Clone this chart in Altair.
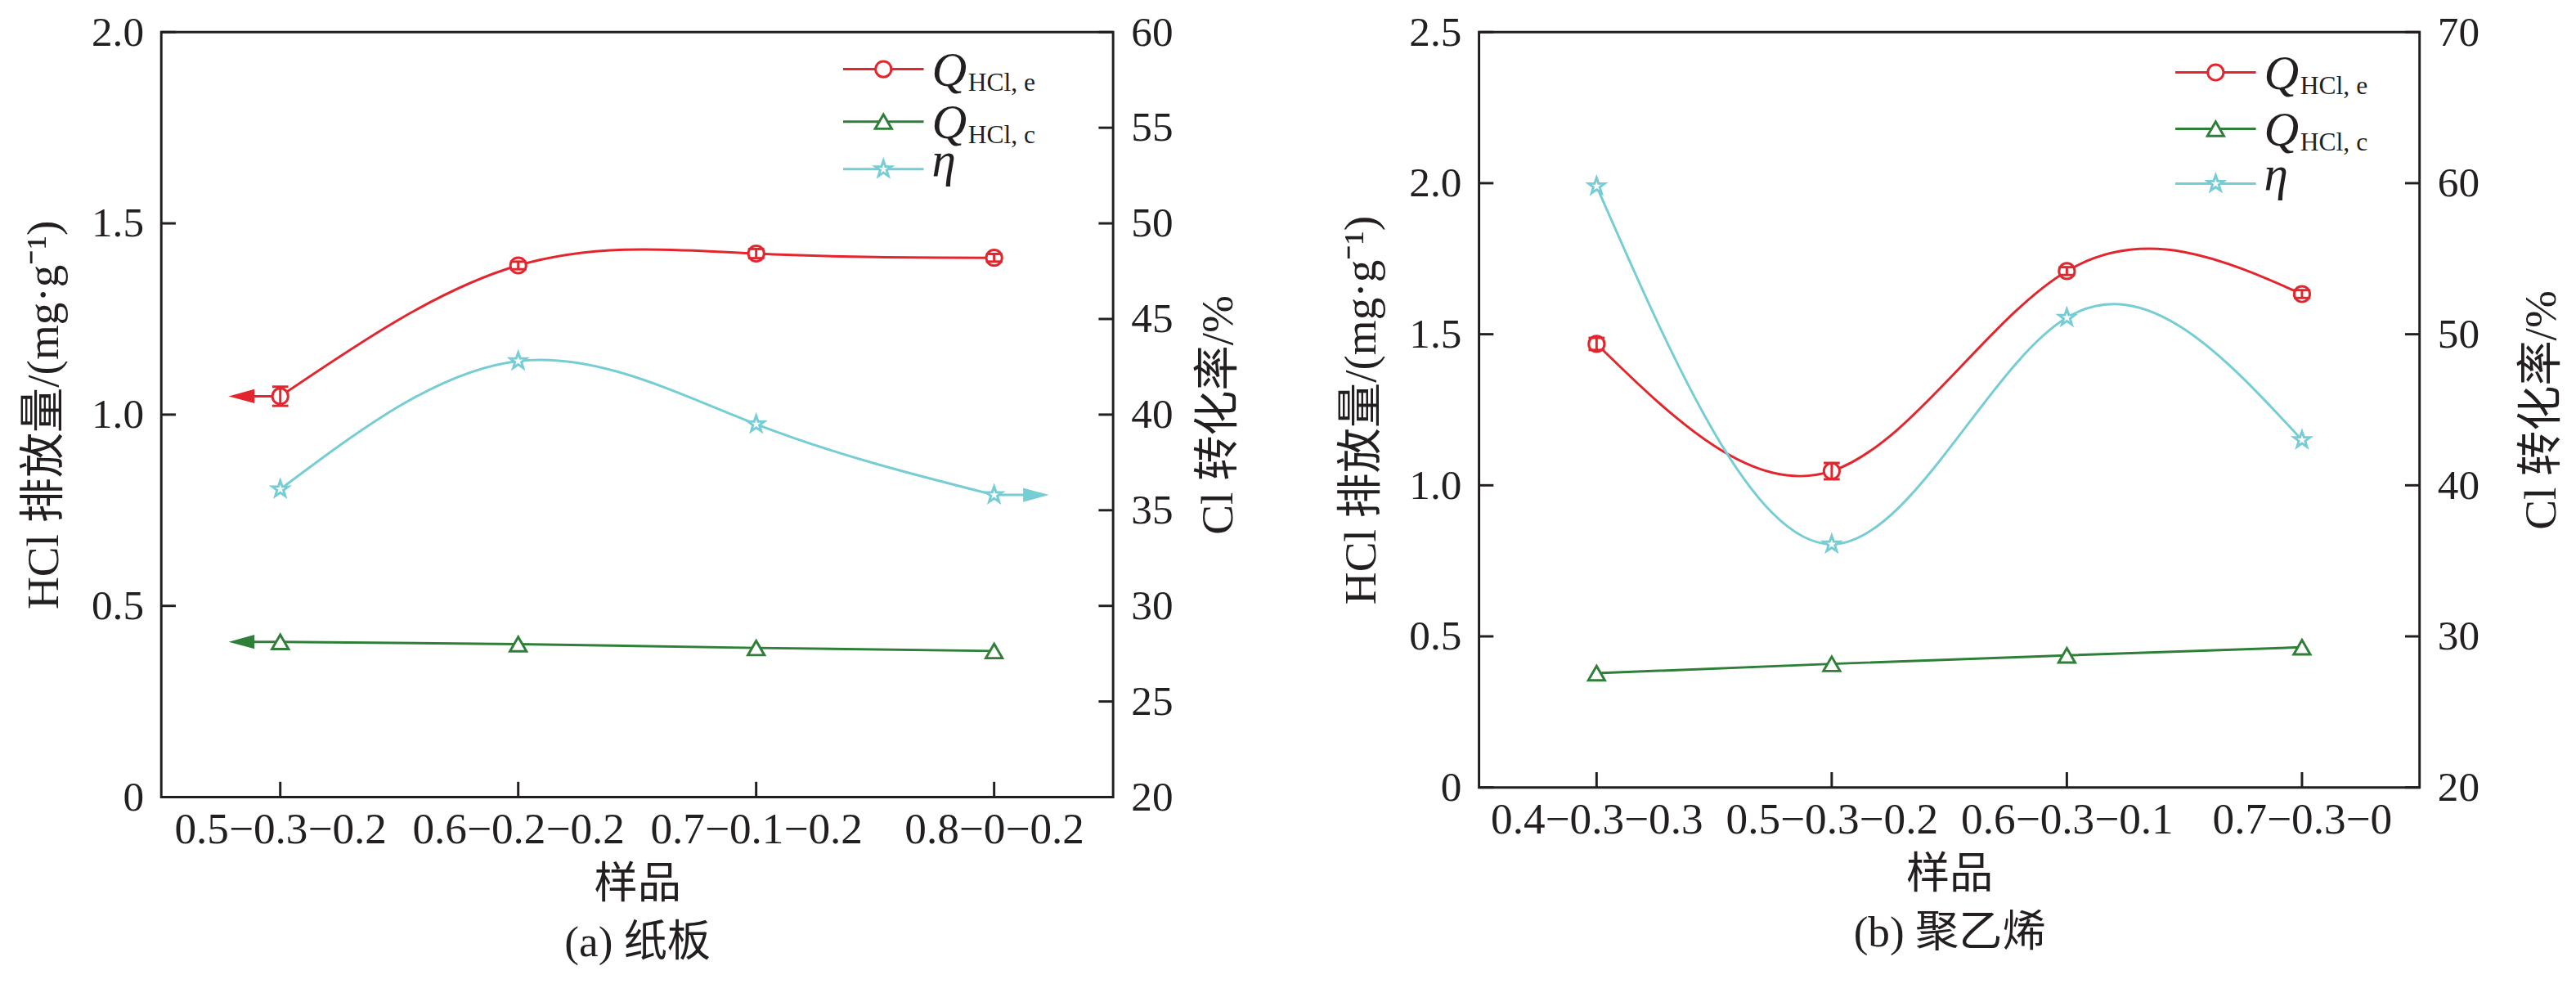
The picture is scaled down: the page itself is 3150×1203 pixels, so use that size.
import altair as alt
import pandas as pd

FONT = "'Liberation Serif', 'Times New Roman', 'Noto Sans CJK SC', serif"
INK = "#231F20"
RED = "#E3262D"
GREEN = "#2F7F38"
CYAN = "#76CDD3"

# ---------------- data: panel (a) 纸板 ----------------
a_samples = ["0.5−0.3−0.2", "0.6−0.2−0.2", "0.7−0.1−0.2", "0.8−0−0.2"]
a_q_e = [1.048, 1.390, 1.421, 1.410]
a_q_e_err = [0.025, 0.010, 0.012, 0.010]
a_q_c = [0.406, 0.400, 0.390, 0.382]
a_eta = [36.1, 42.8, 39.5, 35.8]
a_left_ticks = [0, 0.5, 1.0, 1.5, 2.0]
a_right_ticks = [20, 25, 30, 35, 40, 45, 50, 55, 60]

# ---------------- data: panel (b) 聚乙烯 ----------------
b_samples = ["0.4−0.3−0.3", "0.5−0.3−0.2", "0.6−0.3−0.1", "0.7−0.3−0"]
b_q_e = [1.468, 1.047, 1.709, 1.633]
b_q_e_err = [0.020, 0.027, 0.013, 0.013]
b_q_c = [0.378, 0.409, 0.437, 0.464]
b_eta = [59.8, 36.1, 51.1, 43.0]
b_left_ticks = [0, 0.5, 1.0, 1.5, 2.0, 2.5]
b_right_ticks = [20, 30, 40, 50, 60, 70]

ARROW_L = "M-1,0L1,-0.55L1,0.55Z"
ARROW_R = "M1,0L-1,-0.55L-1,0.55Z"
STAR = ("M0,-1L0.235,-0.324L0.951,-0.309L0.38,0.124L0.588,0.809L0,0.4"
        "L-0.588,0.809L-0.38,0.124L-0.951,-0.309L-0.235,-0.324Z")


def panel(samples, q_e, q_e_err, q_c, eta, ltk, rtk, W, H, caption,
          arrows, leg_x, leg_y, rpad):
    df = pd.DataFrame({
        "sample": samples, "qe": q_e, "qc": q_c, "eta": eta,
        "lo": [v - e for v, e in zip(q_e, q_e_err)],
        "hi": [v + e for v, e in zip(q_e, q_e_err)],
    })
    ldom = [ltk[0], ltk[-1]]
    rdom = [rtk[0], rtk[-1]]
    base = alt.Chart(df)

    xs = alt.Scale(type="point", padding=0.5)
    x_axis = alt.Axis(
        title=["样品", caption], titleLineHeight=72, titlePadding=14,
        titleFont=FONT, titleFontSize=54, titleFontWeight="normal",
        titleColor=INK, labelFont=FONT, labelFontSize=54, labelColor=INK,
        labelPadding=14, labelLimit=0, ticks=False, domain=False, grid=False,
        labelAngle=0)

    def X():
        return alt.X("sample:N", sort=samples, scale=xs, axis=x_axis)

    ly = alt.Scale(domain=ldom, nice=False, zero=False)
    ry = alt.Scale(domain=rdom, nice=False, zero=False)
    y_axis = alt.Axis(
        values=ltk, title="HCl 排放量/(mg·g⁻¹)",
        labelExpr="datum.value == 0 ? '0' : format(datum.value, '.1f')",
        titleFont=FONT, titleFontSize=56, titleFontWeight="normal",
        titleColor=INK, titlePadding=30, labelFont=FONT, labelFontSize=52,
        labelColor=INK, labelPadding=22, ticks=False, domain=False, grid=False)
    r_axis = alt.Axis(
        values=rtk, orient="right", title="Cl 转化率/%", titleAngle=270,
        titleBaseline="top",
        titleFont=FONT, titleFontSize=56, titleFontWeight="normal",
        titleColor=INK, titlePadding=rpad, labelFont=FONT, labelFontSize=52,
        labelColor=INK, labelPadding=22, ticks=False, domain=False, grid=False)

    def LY(f):
        return alt.Y(f, scale=ly, axis=y_axis)

    def RY(f):
        return alt.Y(f, scale=ry, axis=r_axis)

    # ---- left-scale group ----
    red_line = base.mark_line(interpolate="natural", color=RED, strokeWidth=3).encode(
        x=X(), y=LY("qe:Q"))
    green_line = base.mark_line(color=GREEN, strokeWidth=3).encode(
        x=X(), y=LY("qc:Q"))
    left_layers = [red_line, green_line]

    for a in arrows:
        if a[0] in ("qe", "qc"):
            col = RED if a[0] == "qe" else GREEN
            sub = base.transform_filter(alt.datum.sample == samples[a[1]])
            left_layers.append(sub.mark_rule(color=col, strokeWidth=3, x2Offset=-34).encode(
                x=X(), x2="sample:N", y=LY(f"{a[0]}:Q")))
            left_layers.append(sub.mark_point(shape=ARROW_L, filled=True, size=1024, xOffset=-48,
                                              color=col, opacity=1, strokeWidth=0).encode(
                x=X(), y=LY(f"{a[0]}:Q")))

    red_pts = base.mark_point(shape="circle", filled=True, fill="white", stroke=RED,
                              strokeWidth=3, size=380, opacity=1).encode(
        x=X(), y=LY("qe:Q"))
    green_pts = base.mark_point(shape="triangle-up", filled=True, fill="white", stroke=GREEN,
                                strokeWidth=3, size=420, opacity=1).encode(
        x=X(), y=LY("qc:Q"))
    err = base.mark_rule(color=RED, strokeWidth=3).encode(
        x=X(), y=LY("lo:Q"), y2="hi:Q")
    cap_lo = base.mark_rule(color=RED, strokeWidth=3, xOffset=-10, x2Offset=10).encode(
        x=X(), x2="sample:N", y=LY("lo:Q"))
    cap_hi = base.mark_rule(color=RED, strokeWidth=3, xOffset=-10, x2Offset=10).encode(
        x=X(), x2="sample:N", y=LY("hi:Q"))
    left_layers += [red_pts, green_pts, err, cap_lo, cap_hi]

    # inward ticks, left axis and x axis
    lt = alt.Chart(pd.DataFrame({"t": ltk})).mark_rule(color=INK, strokeWidth=3).encode(
        y=LY("t:Q"), x=alt.value(0), x2=alt.value(18))
    xt = alt.Chart(pd.DataFrame({"sample": samples})).mark_rule(color=INK, strokeWidth=3).encode(
        x=X(), y=alt.value(H - 19), y2=alt.value(H))
    left_layers += [lt, xt]

    # legend
    one = alt.Chart(pd.DataFrame({"k": [0]}))
    leg = [("Q", "HCl, e", RED, "circle", 380),
           ("Q", "HCl, c", GREEN, "triangle-up", 420),
           ("η", "", CYAN, STAR, 440)]
    for (main, subtxt, col, shp, sz), yy in zip(leg, leg_y):
        left_layers.append(one.mark_rule(color=col, strokeWidth=3).encode(
            x=alt.value(leg_x), x2=alt.value(leg_x + 100), y=alt.value(yy)))
        left_layers.append(one.mark_point(shape=shp, filled=True, fill="white", stroke=col,
                                          strokeWidth=3, size=sz, opacity=1).encode(
            x=alt.value(leg_x + 50), y=alt.value(yy)))
        left_layers.append(one.mark_text(text=main, font=FONT, fontSize=60, fontStyle="italic",
                                         color=INK, align="left", baseline="alphabetic").encode(
            x=alt.value(leg_x + 110), y=alt.value(yy + (21 if subtxt else 8))))
        if subtxt:
            left_layers.append(one.mark_text(text=subtxt, font=FONT, fontSize=32, color=INK,
                                             align="left", baseline="alphabetic").encode(
                x=alt.value(leg_x + 155), y=alt.value(yy + 27)))

    left_group = alt.layer(*left_layers)

    # ---- right-scale group ----
    cyan_line = base.mark_line(interpolate="natural", color=CYAN, strokeWidth=3).encode(
        x=X(), y=RY("eta:Q"))
    right_layers = [cyan_line]
    for a in arrows:
        if a[0] == "eta":
            sub = base.transform_filter(alt.datum.sample == samples[a[1]])
            right_layers.append(sub.mark_rule(color=CYAN, strokeWidth=3, x2Offset=38).encode(
                x=X(), x2="sample:N", y=RY("eta:Q")))
            right_layers.append(sub.mark_point(shape=ARROW_R, filled=True, size=1024, xOffset=52,
                                               color=CYAN, opacity=1, strokeWidth=0).encode(
                x=X(), y=RY("eta:Q")))
    cyan_pts = base.mark_point(shape=STAR, filled=True, fill="white", stroke=CYAN,
                               strokeWidth=3, size=440, opacity=1).encode(
        x=X(), y=RY("eta:Q"))
    rt = alt.Chart(pd.DataFrame({"t": rtk})).mark_rule(color=INK, strokeWidth=3).encode(
        y=RY("t:Q"), x=alt.value(W - 18), x2=alt.value(W))
    right_layers += [cyan_pts, rt]
    right_group = alt.layer(*right_layers)

    return alt.layer(left_group, right_group).resolve_scale(y="independent").properties(
        width=W, height=H)


pa = panel(a_samples, a_q_e, a_q_e_err, a_q_c, a_eta, a_left_ticks, a_right_ticks,
           1181, 949, "(a) 纸板", [("qe", 0), ("qc", 0), ("eta", 3)], 846, [46, 111, 170], 29)
pb = panel(b_samples, b_q_e, b_q_e_err, b_q_c, b_eta, b_left_ticks, b_right_ticks,
           1167, 937, "(b) 聚乙烯", [], 864, [50, 120, 188], 50)

chart = alt.hconcat(pa, pb, spacing=118).configure(
    padding={"left": 16, "top": -5, "right": 5, "bottom": 5},
    background="white",
).configure_view(stroke=INK, strokeWidth=3)

chart.save("out.html", embed_options={"renderer": "svg", "actions": False})
